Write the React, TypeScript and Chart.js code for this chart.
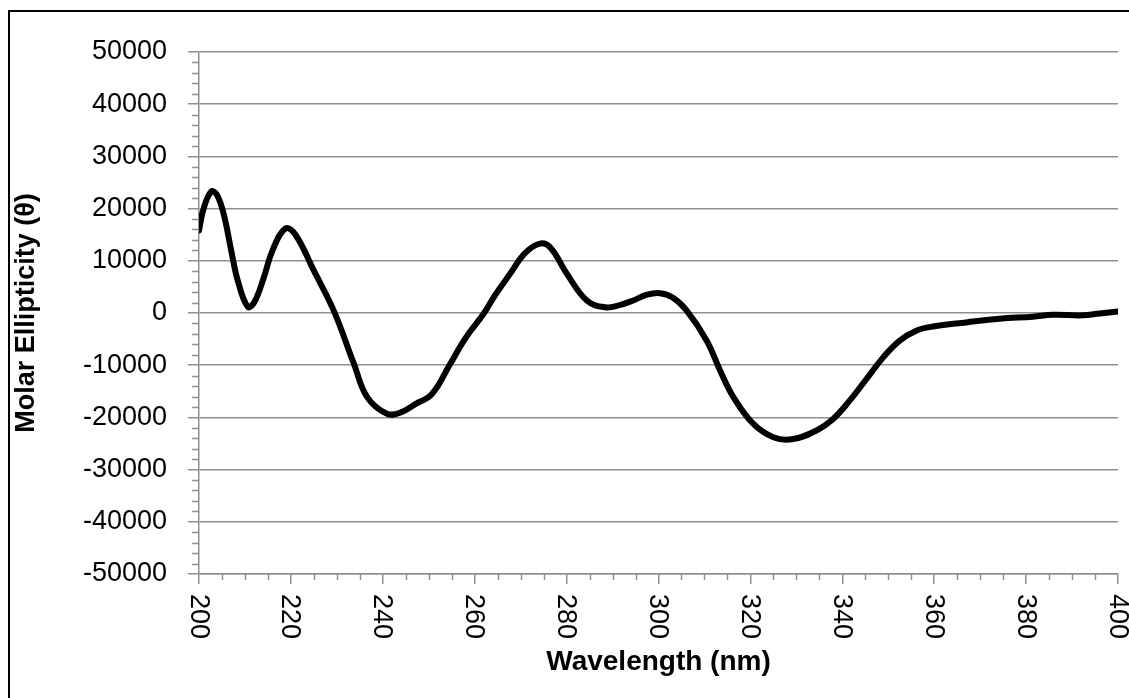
import React, { useEffect, useRef } from "react";
import { Chart, registerables } from "chart.js";

Chart.register(...registerables);

// Wavelength (nm)
const wavelengths = [
  200, 201, 202.7, 204, 205.5, 207, 208.5, 210.6, 212, 214, 216, 218.8, 221, 225, 229.3,
  233.7, 236.6, 240.9, 243.8, 247, 250.7, 254.5, 258, 261.9, 264.5, 267.7, 271, 274.2,
  276.5, 280, 284.4, 288.4, 291.5, 294.5, 297.5, 300.3, 303, 306.1, 310.5, 313.4, 316.3,
  320.6, 325, 329, 334.4, 338, 341.6, 345.3, 348.9, 352.5, 356.1, 359.7, 367, 374.2,
  381.5, 385.8, 392.3, 396, 400,
];
// Molar ellipticity
const ellipticity = [
  15800, 20000, 23300, 22500, 18500, 12000, 6000, 1200, 2000, 6500, 12000, 16200, 15000,
  8100, 500, -9700, -16100, -19300, -19100, -17500, -15500, -10000, -4800, -200, 3500,
  7500, 11500, 13300, 12500, 7600, 2400, 1100, 1500, 2400, 3500, 3800, 3000, 500, -5300,
  -11000, -16100, -21200, -23800, -24200, -22500, -20300, -16800, -12600, -8500, -5300,
  -3400, -2600, -1800, -1100, -700, -350, -450, -100, 300,
];

const xMin = 200;
const xMax = 400;
const xStep = 20;
const xMinorStep = 5;
const yMin = -50000;
const yMax = 50000;
const yStep = 10000;
const yMinorStep = 2000;

const xTitle = "Wavelength (nm)";
const yTitle = "Molar Ellipticity (θ)";

const GRID = "#8f8f8f";
const TICK_FONT = "27px 'Liberation Sans', Arial, sans-serif";

const customAxes = {
  id: "customAxes",
  afterDraw(chart: any) {
    const ctx = chart.ctx;
    const xs = chart.scales.x;
    const ys = chart.scales.y;
    ctx.save();
    ctx.strokeStyle = GRID;
    ctx.lineWidth = 1.5;
    // y minor ticks
    for (let v = yMin; v <= yMax; v += yMinorStep) {
      if (v % yStep === 0) continue;
      const py = Math.round(ys.getPixelForValue(v)) + 0.5;
      ctx.beginPath();
      ctx.moveTo(xs.left - 7, py);
      ctx.lineTo(xs.left, py);
      ctx.stroke();
    }
    // x minor ticks
    for (let v = xMin; v <= xMax; v += xMinorStep) {
      if (v % xStep === 0) continue;
      const px = Math.round(xs.getPixelForValue(v)) + 0.5;
      ctx.beginPath();
      ctx.moveTo(px, ys.bottom);
      ctx.lineTo(px, ys.bottom + 6);
      ctx.stroke();
    }
    // x tick labels, rotated clockwise
    ctx.fillStyle = "#000";
    ctx.font = TICK_FONT;
    ctx.textAlign = "left";
    ctx.textBaseline = "middle";
    xs.ticks.forEach((t: any) => {
      const px = xs.getPixelForValue(t.value);
      ctx.save();
      ctx.translate(px, ys.bottom + 20);
      ctx.rotate(Math.PI / 2);
      ctx.fillText(String(t.value), 0, 1);
      ctx.restore();
    });
    ctx.restore();
  },
};

export default function App() {
  const ref = useRef<HTMLCanvasElement>(null);
  useEffect(() => {
    if (!ref.current) return;
    const chart = new Chart(ref.current, {
      type: "line",
      data: {
        datasets: [
          {
            data: wavelengths.map((w, i) => ({ x: w, y: ellipticity[i] })),
            borderColor: "#000",
            borderWidth: 6,
            pointRadius: 0,
            fill: false,
            tension: 0.4,
            borderCapStyle: "round",
            borderJoinStyle: "round",
          },
        ],
      },
      options: {
        animation: false,
        responsive: false,
        devicePixelRatio: 1,
        layout: { padding: { left: 0, top: 40, right: 11, bottom: 19 } },
        plugins: { legend: { display: false }, tooltip: { enabled: false } },
        scales: {
          x: {
            type: "linear",
            min: xMin,
            max: xMax,
            ticks: { stepSize: xStep, display: false },
            grid: {
              drawOnChartArea: false,
              drawTicks: true,
              tickLength: 10,
              color: GRID,
              lineWidth: 1.5,
            },
            border: { display: true, color: GRID, width: 1.5 },
            title: {
              display: true,
              text: xTitle,
              color: "#000",
              font: { family: "'Liberation Sans', Arial, sans-serif", size: 28, weight: "bold" },
              padding: 0,
            },
            afterFit(scale: any) {
              scale.height = 105;
              scale.paddingLeft = 0;
              scale.paddingRight = 0;
            },
          },
          y: {
            min: yMin,
            max: yMax,
            ticks: {
              stepSize: yStep,
              padding: 21,
              color: "#000",
              font: { family: "'Liberation Sans', Arial, sans-serif", size: 27 },
              callback: (v: any) => String(v),
            },
            grid: {
              drawTicks: true,
              tickLength: 11,
              color: GRID,
              lineWidth: 1.5,
            },
            border: { display: true, color: GRID, width: 1.5 },
            title: {
              display: true,
              text: yTitle,
              color: "#000",
              font: { family: "'Liberation Sans', Arial, sans-serif", size: 27, weight: "bold" },
              padding: 0,
            },
            afterFit(scale: any) {
              scale.width = 189;
              scale.paddingTop = 0;
              scale.paddingBottom = 0;
            },
          },
        },
      },
      plugins: [customAxes],
    });
    return () => chart.destroy();
  }, []);

  return (
    <div
      style={{
        position: "absolute",
        left: 8,
        top: 10,
        width: 1121,
        height: 688,
        boxSizing: "border-box",
        borderLeft: "2px solid #000",
        borderTop: "2px solid #000",
        background: "#fff",
      }}
    >
      <canvas ref={ref} width={1119} height={686} style={{ display: "block" }} />
    </div>
  );
}
